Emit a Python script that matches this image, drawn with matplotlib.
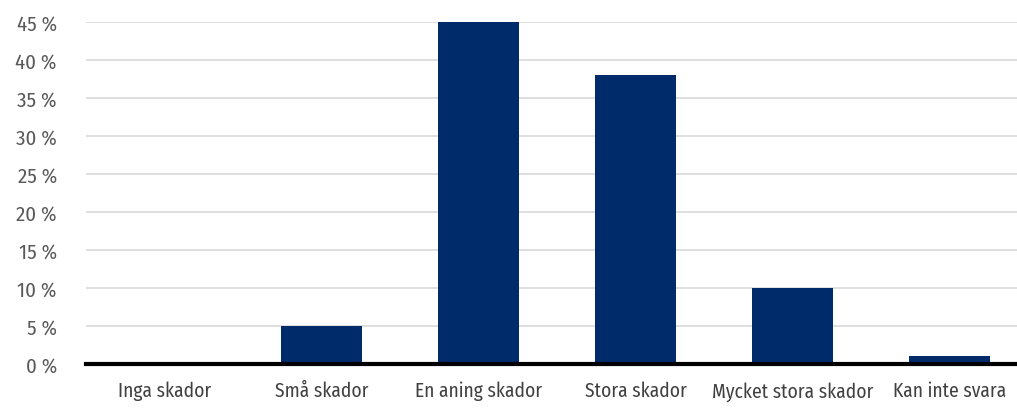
import matplotlib
matplotlib.use("Agg")
import matplotlib.pyplot as plt

categories = ["Inga skador", "Små skador", "En aning skador", "Stora skador",
              "Mycket stora skador", "Kan inte svara"]
values = [0, 5, 45, 38, 10, 1]
yticks = [0, 5, 10, 15, 20, 25, 30, 35, 40, 45]

plt.rcParams["font.family"] = ["Fira Sans Condensed", "DejaVu Sans"]

fig = plt.figure(figsize=(10.17, 4.10), dpi=100)
ax = fig.add_axes([86/1017, 1-365/410, (1017-86)/1017, (365-23)/410])

x = list(range(len(categories)))
ax.bar(x, values, width=0.51, color="#002b6b", zorder=3)
ax.set_xlim(-0.5, 5.43)
ax.set_ylim(0, 45)
ax.set_yticks(yticks)
ax.set_yticklabels([f"{v} %" for v in yticks])
ax.set_xticks(x)
ax.set_xticklabels(categories)
ax.yaxis.grid(True, color="#d9d9d9", linewidth=1.2, zorder=0)
ax.set_axisbelow(True)
for s in ["top", "right", "left"]:
    ax.spines[s].set_visible(False)
ax.spines["bottom"].set_linewidth(3)
ax.spines["bottom"].set_color("black")
ax.spines["bottom"].set_zorder(4)
ax.tick_params(axis="y", length=0, pad=21, labelsize=15, labelcolor="#595959")
ax.tick_params(axis="x", length=0, pad=12, labelsize=14, labelcolor="#404040")
fig.savefig("out.png", dpi=100)
